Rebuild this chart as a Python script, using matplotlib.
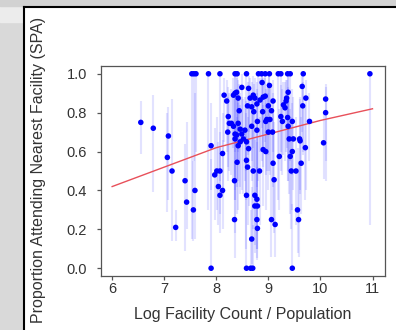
import matplotlib.pyplot as plt
from matplotlib.patches import Rectangle
from matplotlib.lines import Line2D

plt.rcParams['font.family'] = ['Liberation Sans', 'DejaVu Sans']

# log facility count / population, proportion attending, interval low/high
log_count = [6.55, 6.79, 7.08, 7.06, 7.15, 7.22, 7.40, 7.43, 7.56, 7.59,
             7.53, 7.57, 7.61, 7.85, 7.90, 7.90, 7.97, 8.01, 8.07, 8.04,
             8.07, 8.12, 8.12, 8.07, 8.15, 8.20, 8.23, 8.22, 8.25, 8.29,
             8.33, 8.36, 8.39, 8.42, 8.33, 8.36, 8.39, 8.36, 8.42, 8.46,
             8.44, 8.42, 8.46, 8.49, 8.35, 8.35, 8.40, 8.49, 8.52, 8.55,
             8.60, 8.62, 8.58, 8.62, 8.58, 8.60, 8.58, 8.68, 8.58, 8.66,
             8.70, 8.65, 8.68, 8.71, 8.72, 8.68, 8.71, 8.74, 8.78, 8.79,
             8.78, 8.83, 8.74, 8.78, 8.74, 8.79, 8.78, 8.79, 8.84, 8.88,
             8.90, 8.89, 8.94, 8.95, 8.97, 8.90, 8.95, 9.00, 9.02, 9.03,
             9.00, 9.06, 9.08, 9.09, 9.06, 9.09, 9.11, 9.13, 9.21, 9.24,
             9.27, 9.29, 9.32, 9.34, 9.35, 9.38, 9.37, 9.38, 9.40, 9.42,
             9.44, 9.46, 9.46, 9.48, 9.46, 9.53, 9.56, 9.58, 9.60, 9.61,
             9.63, 9.65, 9.66, 9.72, 9.71, 9.79, 10.06, 10.10, 10.10,
             8.36, 8.40, 8.58, 8.81, 8.87, 8.94, 9.02, 9.19, 9.24, 9.37,
             9.42, 9.67, 10.95]
prop = [0.75, 0.72, 0.68, 0.57, 0.50, 0.21, 0.45, 0.34, 0.30, 0.40,
        1.0, 1.0, 1.0, 1.0, 0.63, 0.0, 0.48, 0.50, 0.50, 0.42,
        0.375, 0.40, 0.59, 1.0, 0.89, 0.86, 0.78, 0.70, 0.745, 0.745,
        0.89, 0.90, 0.905, 0.875, 0.73, 0.69, 0.685, 0.665, 0.63, 0.65,
        0.81, 0.745, 0.715, 0.69, 0.45, 0.25, 0.545, 0.93, 0.665, 0.71,
        0.835, 0.925, 0.65, 0.615, 0.555, 0.52, 0.375, 0.15, 0.0, 0.0,
        0.0, 0.875, 0.83, 0.89, 0.805, 0.73, 0.50, 0.875, 0.845, 0.755,
        0.71, 0.50, 0.375, 0.355, 0.32, 0.32, 0.25, 0.205, 0.865, 0.955,
        0.88, 0.805, 0.885, 0.755, 0.765, 0.61, 0.60, 0.835, 0.94, 0.765,
        0.70, 0.81, 0.70, 0.86, 0.25, 0.54, 0.455, 0.225, 0.575, 0.78,
        0.755, 0.84, 0.825, 0.86, 0.875, 0.905, 0.775, 0.73, 0.665, 0.575,
        0.50, 0.755, 0.60, 0.665, 0.0, 0.50, 0.30, 0.25, 0.665, 0.655,
        0.54, 0.935, 0.835, 0.875, 0.62, 0.755, 0.645, 0.87, 0.80,
        1.0, 1.0, 1.0, 1.0, 1.0, 1.0, 1.0, 1.0, 1.0, 1.0,
        1.0, 1.0, 1.0]
ci_low = [0.59, 0.39, 0.35, 0.29, 0.14, 0.14, 0.09, 0.20, 0.14, 0.15,
          0.15, 0.55, 0.60, 0.30, 0.40, 0.0, 0.25, 0.30, 0.28, 0.22,
          0.18, 0.20, 0.38, 0.45, 0.65, 0.60, 0.52, 0.45, 0.50, 0.48,
          0.62, 0.60, 0.66, 0.60, 0.45, 0.40, 0.42, 0.35, 0.30, 0.38,
          0.55, 0.45, 0.42, 0.40, 0.18, 0.05, 0.28, 0.70, 0.38, 0.45,
          0.58, 0.70, 0.35, 0.32, 0.25, 0.22, 0.10, 0.02, 0.0, 0.0,
          0.0, 0.62, 0.55, 0.62, 0.52, 0.45, 0.20, 0.60, 0.58, 0.48,
          0.42, 0.22, 0.12, 0.10, 0.08, 0.10, 0.05, 0.04, 0.60, 0.72,
          0.62, 0.52, 0.65, 0.48, 0.50, 0.32, 0.30, 0.58, 0.70, 0.48,
          0.40, 0.55, 0.42, 0.60, 0.06, 0.25, 0.18, 0.06, 0.30, 0.50,
          0.48, 0.58, 0.55, 0.60, 0.62, 0.65, 0.50, 0.45, 0.38, 0.28,
          0.20, 0.48, 0.30, 0.40, 0.0, 0.22, 0.08, 0.06, 0.40, 0.38,
          0.28, 0.70, 0.58, 0.40, 0.35, 0.55, 0.46, 0.55, 0.45,
          0.35, 0.55, 0.50, 0.45, 0.55, 0.60, 0.50, 0.35, 0.60, 0.45,
          0.55, 0.60, 0.22]
ci_high = [0.86, 0.89, 0.83, 0.80, 0.87, 0.30, 0.64, 0.75, 0.55, 0.90,
           1.0, 1.0, 1.0, 1.0, 0.85, 0.56, 0.72, 0.78, 0.70, 0.65,
           0.62, 0.66, 0.80, 1.0, 0.98, 0.97, 0.93, 0.88, 0.90, 0.92,
           0.98, 0.99, 0.98, 0.97, 0.90, 0.88, 0.86, 0.87, 0.85, 0.84,
           0.95, 0.92, 0.90, 0.88, 0.72, 0.55, 0.78, 1.0, 0.87, 0.88,
           0.96, 0.99, 0.86, 0.84, 0.80, 0.78, 0.68, 0.42, 0.25, 0.30,
           0.22, 0.98, 0.96, 0.99, 0.95, 0.90, 0.80, 0.98, 0.96, 0.92,
           0.90, 0.78, 0.66, 0.65, 0.60, 0.58, 0.52, 0.48, 0.98, 1.0,
           0.98, 0.95, 0.98, 0.92, 0.93, 0.84, 0.85, 0.96, 0.99, 0.93,
           0.90, 0.95, 0.90, 0.97, 0.55, 0.80, 0.75, 0.45, 0.82, 0.94,
           0.92, 0.96, 0.96, 0.97, 0.97, 0.99, 0.93, 0.90, 0.88, 0.82,
           0.78, 0.92, 0.85, 0.88, 0.33, 0.78, 0.62, 0.55, 0.87, 0.88,
           0.78, 0.99, 0.96, 0.97, 0.83, 0.90, 0.80, 0.95, 0.93,
           1.0, 1.0, 1.0, 1.0, 1.0, 1.0, 1.0, 1.0, 1.0, 1.0,
           1.0, 1.0, 1.0]

# fitted curve
fit_x = [6.0, 6.5, 7.0, 7.5, 8.0, 8.5, 9.0, 9.5, 10.0, 10.5, 11.0]
fit_y = [0.42, 0.47, 0.52, 0.57, 0.62, 0.655, 0.69, 0.725, 0.76, 0.79, 0.82]

fig = plt.figure(figsize=(3.96, 3.30), dpi=100)

# slide frame around the plot
W, H = 396.0, 330.0
fig.patches.append(Rectangle((0, 0), 23 / W, 1, transform=fig.transFigure,
                             color='#d9d9d9', zorder=0))
fig.patches.append(Rectangle((0, 1 - 22 / H), 23 / W, 15 / H, transform=fig.transFigure,
                             color='#ececec', zorder=0))
fig.patches.append(Rectangle((0, 1 - 6 / H), 1, 6 / H, transform=fig.transFigure,
                             color='#d2d2d2', zorder=0))
fig.lines.append(Line2D([23.5 / W, 23.5 / W], [0, 1 - 6.5 / H], transform=fig.transFigure,
                        color='black', lw=1.5))
fig.lines.append(Line2D([23.5 / W, 1], [1 - 6.5 / H, 1 - 6.5 / H], transform=fig.transFigure,
                        color='black', lw=1.5))

ax = fig.add_axes([100.7 / W, 1 - 276 / H, 284.3 / W, 210 / H])
ax.vlines(log_count, ci_low, ci_high, color='#4040ff', alpha=0.15, lw=1.5, zorder=1)
ax.plot(fit_x, fit_y, color='#e8505a', lw=1.0, zorder=2)
ax.scatter(log_count, prop, s=16, color='#0000ff', edgecolors='none', zorder=3)

ax.set_xlim(5.78, 11.24)
ax.set_ylim(-0.04, 1.04)
ax.set_xticks([6, 7, 8, 9, 10, 11])
ax.set_yticks([0.0, 0.2, 0.4, 0.6, 0.8, 1.0])
ax.set_yticklabels(['0.0', '0.2', '0.4', '0.6', '0.8', '1.0'])
for s in ax.spines.values():
    s.set_color('#555555')
    s.set_linewidth(0.9)
ax.tick_params(axis='both', length=3, width=0.9, color='#555555',
               labelcolor='#333333', labelsize=10.5)
ax.tick_params(axis='y', pad=7)
ax.tick_params(axis='x', pad=1)

fig.text(243 / W, 1 - 315 / H, 'Log Facility Count / Population', ha='center', va='center',
         fontsize=11.5, color='#333333')
fig.text(39 / W, 1 - 170 / H, 'Proportion Attending Nearest Facility (SPA)', ha='center',
         va='center', rotation=90, fontsize=11.5, color='#333333')

fig.savefig('out.png', dpi=100)
